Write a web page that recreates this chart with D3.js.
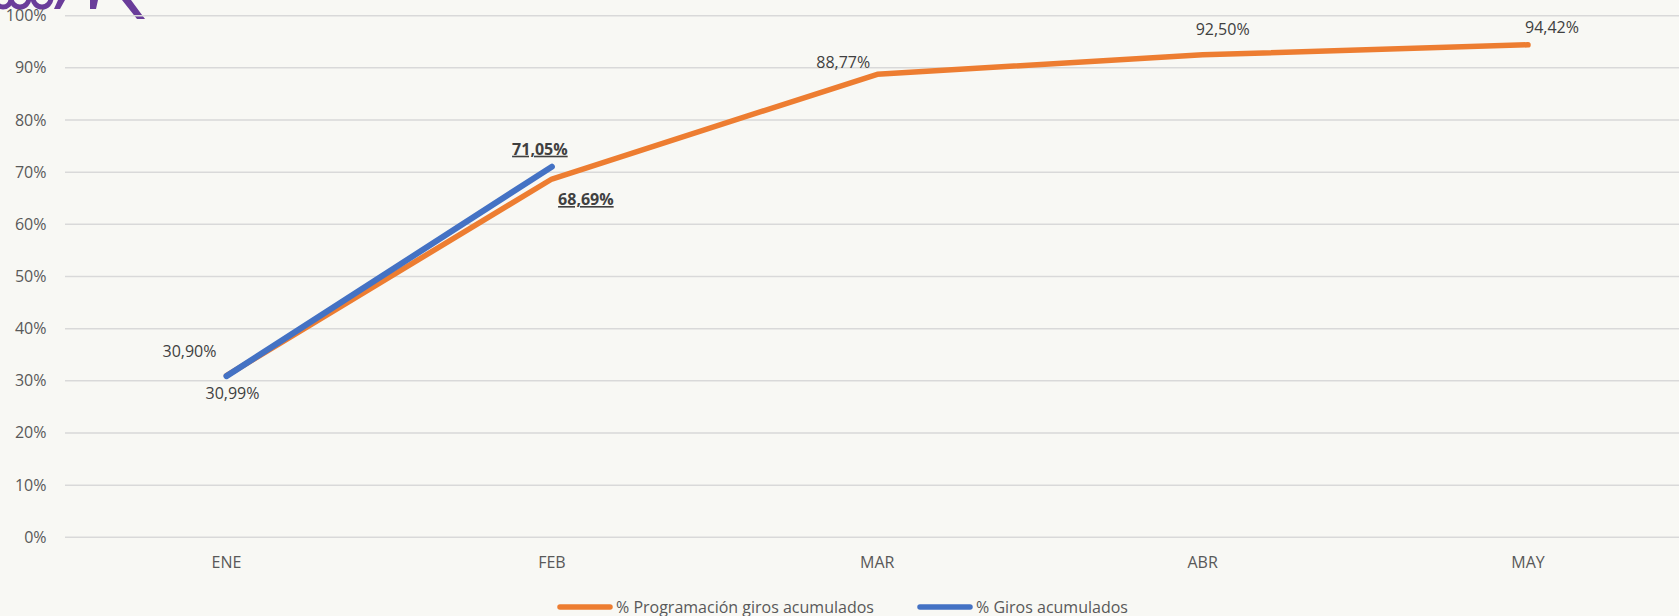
<!DOCTYPE html>
<html>
<head>
<meta charset="utf-8">
<script src="https://cdn.jsdelivr.net/npm/d3@7"></script>
<style>
  html, body { margin: 0; padding: 0; background: #f8f8f4; overflow: hidden; }
  svg { display: block; font-family: "Open Sans", sans-serif; }
</style>
</head>
<body>
<svg id="chart"></svg>
<script>
// 1) Data -----------------------------------------------------------
const months = ['ENE', 'FEB', 'MAR', 'ABR', 'MAY'];
const programados = [30.99, 68.69, 88.77, 92.50, 94.42];   // % Programación giros acumulados
const girados = [30.90, 71.05];                             // % Giros acumulados
const yTicks = [0, 10, 20, 30, 40, 50, 60, 70, 80, 90, 100];
const seriesNames = ['% Programación giros acumulados', '% Giros acumulados'];

// label offsets (dx, dy, bold) for each point
const progLabelPos = [[6, 23, false], [34, 26, true], [-34, -6, false], [20, -20, false], [24, -12, false]];
const giroLabelPos = [[-37, -19, false], [-12, -12, true]];

// 2) Dimensions -----------------------------------------------------
const width = 1679;
const height = 616;
const svg = d3.select('#chart')
  .attr('width', width)
  .attr('height', height);

svg.append('rect')
  .attr('width', width)
  .attr('height', height)
  .attr('fill', '#f8f8f4');

const x = d3.scalePoint()
  .domain(months)
  .range([226.5, 1528]);

const y = d3.scaleLinear()
  .domain([0, 100])
  .range([537.3, 15.7]);

const fmt = v => d3.format('.2f')(v).replace('.', ',') + '%';

// 3) Logo fragment (only the bottom edge is visible) ----------------
const defs = svg.append('defs');
defs.append('clipPath').attr('id', 'logo-clip')
  .append('rect').attr('x', 0).attr('y', 0).attr('width', 160).attr('height', 20);

const logo = svg.append('g').attr('clip-path', 'url(#logo-clip)');
[[3, 8], [20, 9], [42, 9]].forEach(([cx, r]) => {
  logo.append('circle')
    .attr('cx', cx)
    .attr('cy', 8 - r - 1)
    .attr('r', r)
    .attr('fill', 'none')
    .attr('stroke', '#6a3d9a')
    .attr('stroke-width', 5);
});
logo.append('path')
  .attr('fill', '#6a3d9a')
  .attr('d', 'M58,0 L65,0 L60,9 L54,9 Z M90,0 L98,0 L96,9 L90,9 Z M122,0 L131,0 L145,19 L137,19 Z');

// 4) Grid + y axis --------------------------------------------------
svg.append('g')
  .selectAll('line')
  .data(yTicks)
  .enter().append('line')
  .attr('x1', 65)
  .attr('x2', width)
  .attr('y1', d => y(d))
  .attr('y2', d => y(d))
  .attr('stroke', '#d9d9d9')
  .attr('stroke-width', 1.5);

svg.append('g')
  .selectAll('text')
  .data(yTicks)
  .enter().append('text')
  .attr('x', 46.5)
  .attr('y', d => y(d) + 5.5)
  .attr('text-anchor', 'end')
  .attr('font-size', 16)
  .attr('fill', '#595959')
  .text(d => d + '%');

// 5) x axis labels --------------------------------------------------
svg.append('g')
  .selectAll('text')
  .data(months)
  .enter().append('text')
  .attr('x', d => x(d))
  .attr('y', 568)
  .attr('text-anchor', 'middle')
  .attr('font-size', 16)
  .attr('fill', '#595959')
  .text(d => d);

// 6) Lines ----------------------------------------------------------
const line = d3.line()
  .x((d, i) => x(months[i]))
  .y(d => y(d));

svg.append('path')
  .datum(programados)
  .attr('d', line)
  .attr('fill', 'none')
  .attr('stroke', '#ed7d31')
  .attr('stroke-width', 5.5)
  .attr('stroke-linecap', 'round')
  .attr('stroke-linejoin', 'round');

svg.append('path')
  .datum(girados)
  .attr('d', line)
  .attr('fill', 'none')
  .attr('stroke', '#4472c4')
  .attr('stroke-width', 6)
  .attr('stroke-linecap', 'round')
  .attr('stroke-linejoin', 'round');

// 7) Data labels ----------------------------------------------------
function addLabels(values, pos) {
  svg.append('g')
    .selectAll('text')
    .data(values)
    .enter().append('text')
    .attr('x', (d, i) => x(months[i]) + pos[i][0])
    .attr('y', (d, i) => y(d) + pos[i][1])
    .attr('text-anchor', 'middle')
    .attr('font-size', 16)
    .attr('font-weight', (d, i) => pos[i][2] ? 'bold' : 'normal')
    .attr('text-decoration', (d, i) => pos[i][2] ? 'underline' : 'none')
    .attr('fill', '#404040')
    .text(d => fmt(d));
}
addLabels(programados, progLabelPos);
addLabels(girados, giroLabelPos);

// 8) Legend ---------------------------------------------------------
const legend = svg.append('g');
const legendItems = [
  { name: seriesNames[0], color: '#ed7d31', x0: 557 },
  { name: seriesNames[1], color: '#4472c4', x0: 917 }
];
legendItems.forEach(d => {
  legend.append('line')
    .attr('x1', d.x0 + 3)
    .attr('x2', d.x0 + 53)
    .attr('y1', 607)
    .attr('y2', 607)
    .attr('stroke', d.color)
    .attr('stroke-width', 5.5)
    .attr('stroke-linecap', 'round');
  legend.append('text')
    .attr('x', d.x0 + 59)
    .attr('y', 612.5)
    .attr('font-size', 16)
    .attr('fill', '#595959')
    .text(d.name);
});
</script>
</body>
</html>
